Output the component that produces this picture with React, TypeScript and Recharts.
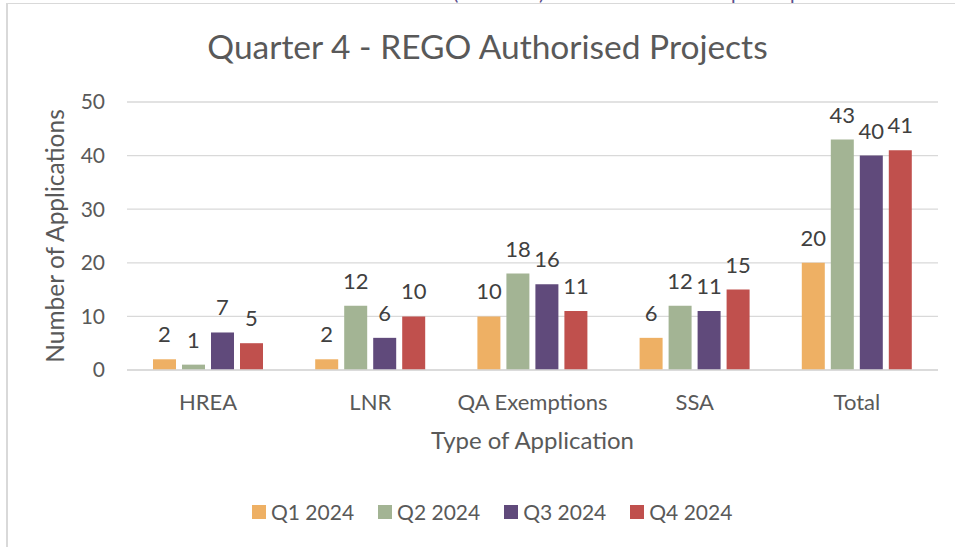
import React from "react"
import { BarChart, Bar, XAxis, YAxis, CartesianGrid, LabelList } from "recharts"

// Values
const categories = ["HREA", "LNR", "QA Exemptions", "SSA", "Total"]
const q1Values = [2, 2, 10, 6, 20]
const q2Values = [1, 12, 18, 12, 43]
const q3Values = [7, 6, 16, 11, 40]
const q4Values = [5, 10, 11, 15, 41]
const seriesNames = ["Q1 2024", "Q2 2024", "Q3 2024", "Q4 2024"]
const yTicks = [0, 10, 20, 30, 40, 50]

const colors = ["#EEB064", "#A3B494", "#604A7B", "#C0504D"]
const keys = ["q1", "q2", "q3", "q4"]

const data = categories.map((name, i) => ({
  name,
  q1: q1Values[i],
  q2: q2Values[i],
  q3: q3Values[i],
  q4: q4Values[i],
}))

const font = "Lato, 'Open Sans', sans-serif"

const App = () => {
  return (
    <div style={{ position: "absolute", left: 0, top: 0, width: 955, height: 547, background: "#fff", overflow: "hidden", fontFamily: font }}>
      {/* bits of the text line cut off above the chart */}
      <div style={{ position: "absolute", left: 0, top: 0, width: 955, height: 3, overflow: "hidden", color: "#5B4E8C", fontSize: 20, lineHeight: "20px" }}>
        <span style={{ position: "absolute", left: 453, top: -18 }}>(</span>
        <span style={{ position: "absolute", left: 539, top: -18 }}>)</span>
        <span style={{ position: "absolute", left: 731, top: -18 }}>p</span>
        <span style={{ position: "absolute", left: 790, top: -18 }}>p</span>
      </div>
      {/* chart frame */}
      <div style={{ position: "absolute", left: 6, top: 3, width: 949, height: 544, borderLeft: "2px solid #d9d9d9", borderTop: "1px solid #d9d9d9", boxSizing: "border-box" }} />

      <div style={{ position: "absolute", left: 0, top: 26, width: 975, textAlign: "center", fontSize: 33.5, lineHeight: "40px", color: "#595959" }}>
        Quarter 4 - REGO Authorised Projects
      </div>

      <div style={{ position: "absolute", left: 0, top: 0 }}>
        <BarChart
          width={955}
          height={547}
          data={data}
          margin={{ top: 102, right: 17, bottom: 0, left: 0 }}
          barCategoryGap={26}
          barGap={6}
        >
          <CartesianGrid vertical={false} stroke="#d9d9d9" strokeWidth={1.3} />
          <XAxis
            dataKey="name"
            height={177}
            axisLine={{ stroke: "#d9d9d9", strokeWidth: 1.3 }}
            tickLine={false}
            tickSize={0}
            tickMargin={24}
            tick={{ fill: "#595959", fontSize: 22, fontFamily: font }}
            label={{ value: "Type of Application", position: "insideBottom", offset: 98, fill: "#595959", fontSize: 24, fontFamily: font }}
          />
          <YAxis
            width={127}
            domain={[0, 50]}
            ticks={yTicks}
            axisLine={false}
            tickLine={false}
            tickSize={0}
            tickMargin={22}
            tick={{ fill: "#595959", fontSize: 21, fontFamily: font }}
            label={{ value: "Number of Applications", angle: -90, position: "insideLeft", offset: 55, fill: "#595959", fontSize: 24.5, fontFamily: font, style: { textAnchor: "middle" } }}
          />
          {keys.map((k, i) => (
            <Bar key={k} dataKey={k} name={seriesNames[i]} fill={colors[i]} isAnimationActive={false}>
              <LabelList dataKey={k} position="top" offset={17} fill="#404040" fontSize={22} fontFamily={font} />
            </Bar>
          ))}
        </BarChart>
      </div>

      {/* legend */}
      <div style={{ position: "absolute", left: 252, top: 498, display: "flex", gap: 24, fontSize: 21, lineHeight: "27px", color: "#595959" }}>
        {seriesNames.map((n, i) => (
          <div key={n} style={{ display: "flex", alignItems: "center", gap: 5 }}>
            <span style={{ width: 14, height: 14, background: colors[i], display: "inline-block" }} />
            <span>{n}</span>
          </div>
        ))}
      </div>
    </div>
  )
}

export default App
